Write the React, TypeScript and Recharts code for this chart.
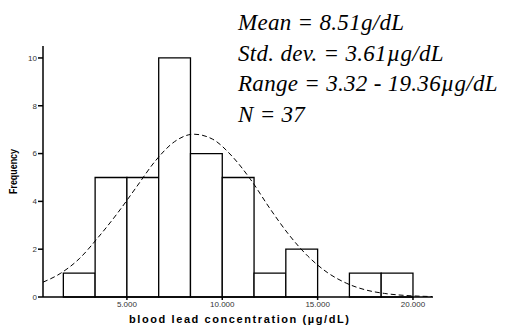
import { ComposedChart, Line, XAxis, YAxis, ReferenceArea } from 'recharts'

// histogram bins (µg/dL) and counts
const binStarts = [1.667, 3.333, 5.0, 6.667, 8.333, 10.0, 11.667, 13.333, 15.0, 16.667, 18.333]
const binEnds = [3.333, 5.0, 6.667, 8.333, 10.0, 11.667, 13.333, 15.0, 16.667, 18.333, 20.0]
const counts = [1, 5, 5, 10, 6, 5, 1, 2, 0, 1, 1]

// dashed normal curve, estimated points
const curveX = [0.6, 1.5, 2.5, 3.5, 4.5, 5.5, 6.5, 7.5, 8.5, 9.5, 10.5, 11.5, 12.5, 13.5, 14.5, 15.5, 16.5, 17.5, 18.5, 19.5, 20.5, 21.0]
const curveY = [0.62, 0.98, 1.6, 2.5, 3.5, 4.6, 5.7, 6.5, 6.81, 6.6, 5.9, 4.9, 3.7, 2.6, 1.7, 1.03, 0.58, 0.3, 0.15, 0.07, 0.03, 0.02]

const xTicks = [5, 10, 15, 20]
const yTicks = [0, 2, 4, 6, 8, 10]

const statLines = [
  'Mean = 8.51g/dL',
  'Std. dev. = 3.61µg/dL',
  'Range = 3.32 - 19.36µg/dL',
  'N = 37',
]

const xTitle = 'blood lead concentration (µg/dL)'
const yTitle = 'Frequency'

const curveData = curveX.map((x, i) => ({ x, y: curveY[i] }))

const sans = "'Liberation Sans', Arial, sans-serif"

const FreqLabel = (props: any) => {
  const vb = props.viewBox || {}
  const cx = 13
  const cy = vb.y + vb.height / 2
  return (
    <text
      x={cx}
      y={cy}
      transform={`rotate(-90 ${cx} ${cy})`}
      textAnchor="middle"
      dominantBaseline="central"
      fontSize={11}
      fontWeight="bold"
      fontFamily={sans}
      fill="#000"
      textLength={45}
      lengthAdjust="spacingAndGlyphs"
    >
      {yTitle}
    </text>
  )
}

const XLabel = (props: any) => {
  const vb = props.viewBox || {}
  return (
    <text
      x={vb.x + vb.width / 2 + 1}
      y={323}
      textAnchor="middle"
      fontSize={11}
      fontWeight="bold"
      fontFamily={sans}
      fill="#000"
      textLength={220}
      lengthAdjust="spacing"
    >
      {xTitle}
    </text>
  )
}

export default function App() {
  return (
    <div style={{ position: 'absolute', left: 0, top: 0, width: 505, height: 325, background: '#fff' }}>
      <ComposedChart
        width={505}
        height={325}
        data={curveData}
        margin={{ top: 46, right: 72, left: 0, bottom: 0 }}
      >
        <XAxis
          dataKey="x"
          type="number"
          domain={[0.6, 21.05]}
          ticks={xTicks}
          tickFormatter={(v: number) => v.toFixed(3)}
          height={28}
          stroke="#000"
          strokeWidth={1.5}
          tickSize={3}
          tickMargin={1}
          tick={{ fontSize: 8, fill: '#333', fontFamily: sans }}
          allowDataOverflow
          label={<XLabel />}
        />
        <YAxis
          type="number"
          domain={[0, 10.5]}
          ticks={yTicks}
          width={43}
          stroke="#000"
          strokeWidth={1.5}
          tickSize={5}
          tickMargin={1}
          tick={{ fontSize: 8, fill: '#333', fontFamily: sans }}
          allowDataOverflow
          label={<FreqLabel />}
        />
        {counts.map((c, i) =>
          c > 0 ? (
            <ReferenceArea
              key={i}
              x1={binStarts[i]}
              x2={binEnds[i]}
              y1={0}
              y2={c}
              fill="#fff"
              fillOpacity={1}
              stroke="#000"
              strokeWidth={1.3}
            />
          ) : null
        )}
        <Line
          dataKey="y"
          type="monotone"
          stroke="#000"
          strokeWidth={1}
          strokeDasharray="5 3"
          dot={false}
          isAnimationActive={false}
        />
      </ComposedChart>
      <div
        style={{
          position: 'absolute',
          left: 238,
          top: 8,
          fontFamily: "'Liberation Serif', 'Times New Roman', serif",
          fontStyle: 'italic',
          fontSize: 23,
          letterSpacing: 0.3,
          lineHeight: '30.5px',
          color: '#000',
          whiteSpace: 'nowrap',
        }}
      >
        {statLines.map((s, i) => (
          <div key={i}>{s}</div>
        ))}
      </div>
    </div>
  )
}
